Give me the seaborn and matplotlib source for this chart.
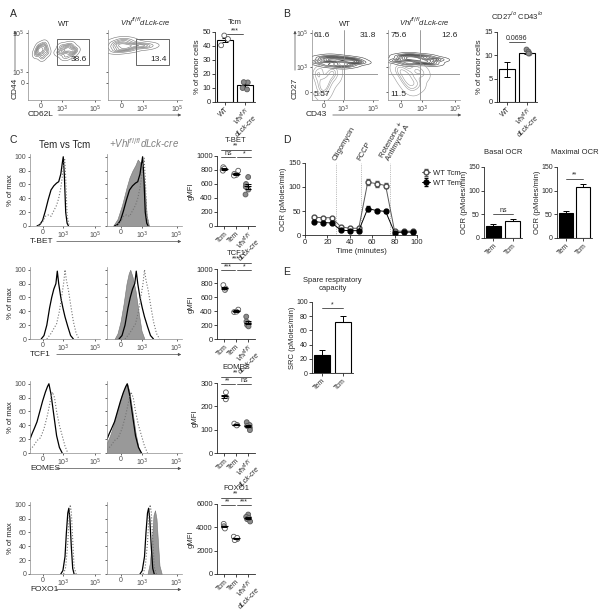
import numpy as np
import pandas as pd
import matplotlib
matplotlib.use("Agg")
import matplotlib.pyplot as plt
import seaborn as sns

W, H = 613, 612
VHL = r"Vhl$^{fl/fl}$dLck-cre"
VHL2 = "Vhl$^{fl/fl}$\ndLck-cre"

# ---------------- data ----------------
# A: CD44 vs CD62L "events" (channel units 0-100), one list per population
a_wt_left_x = [12, 16, 20, 24, 26, 14, 18, 22, 19]
a_wt_left_y = [66, 76, 62, 74, 68, 71, 68, 79, 72]
a_wt_right_x = [44, 48, 52, 56, 60, 64, 50, 58, 54, 62]
a_wt_right_y = [68, 76, 62, 74, 66, 72, 70, 78, 71, 70]
a_ko_x = [6, 10, 14, 18, 22, 26, 30, 36, 42, 48, 54, 12, 20, 28, 16, 24]
a_ko_y = [76, 82, 72, 80, 74, 84, 76, 80, 78, 76, 78, 70, 86, 72, 78, 78]
a_gate = ["38.6", "13.4"]
a_tcm_wt = [47.5, 45.0, 40.5]
a_tcm_ko = [14.0, 14.2, 10.0, 9.0]

# B: CD27 vs CD43
b_wt_band_x = [8, 16, 24, 32, 40, 48, 56, 64, 72, 20, 30, 44, 52, 60, 36]
b_wt_band_y = [54, 60, 50, 58, 52, 60, 50, 58, 54, 56, 62, 48, 56, 54, 56]
b_wt_tail_x = [6, 12, 18, 24, 30, 10, 22, 34, 16]
b_wt_tail_y = [40, 20, 12, 30, 42, 32, 22, 36, 46]
b_ko_band_x = [12, 20, 28, 36, 44, 52, 60, 68, 24, 40, 56, 32]
b_ko_band_y = [56, 62, 52, 60, 54, 62, 52, 58, 58, 58, 56, 64]
b_ko_tail_x = [16, 24, 32, 40, 46, 20, 30, 38, 28]
b_ko_tail_y = [44, 30, 18, 24, 38, 40, 26, 44, 36]
b_quad_wt = ["61.6", "31.8", "5.57"]
b_quad_ko = ["75.6", "12.6", "11.5"]
b_means = [7.0, 10.6]
b_sems = [1.6, 0.3]
b_ko_pts = [11.3, 10.9, 10.5, 10.6]

# C: histograms (x channel units, y % of max)
markers_c = ["T-BET", "TCF1", "EOMES", "FOXO1"]
tbet_tem_x = [10, 14, 18, 22, 26, 30, 34, 38, 41, 44, 46, 47.5, 49, 51, 53, 55]
tbet_tem_y = [0, 2, 8, 22, 38, 52, 58, 62, 64, 75, 90, 100, 75, 20, 4, 0]
tbet_tcm_x = [12, 18, 22, 26, 30, 34, 38, 41, 44, 46, 48, 49.5, 51, 53, 56]
tbet_tcm_y = [0, 6, 14, 16, 14, 22, 30, 40, 55, 70, 88, 98, 70, 15, 0]
tbet_ko_x = [8, 14, 20, 26, 30, 34, 38, 41, 44, 47, 50, 53, 56]
tbet_ko_y = [0, 10, 30, 55, 70, 80, 88, 96, 92, 85, 60, 15, 0]
tcf1_tem_x = [16, 20, 24, 28, 31, 34, 37, 39, 41, 44, 47, 50, 54, 58, 62]
tcf1_tem_y = [0, 5, 20, 45, 60, 72, 80, 98, 80, 60, 45, 32, 18, 5, 0]
tcf1_tcm_x = [24, 30, 34, 38, 42, 45, 48, 50, 52, 55, 58, 62, 66, 70]
tcf1_tcm_y = [0, 8, 15, 22, 40, 60, 80, 100, 85, 70, 50, 25, 8, 0]
tcf1_ko_x = [10, 14, 18, 22, 26, 29, 31, 34, 38, 42, 46, 50]
tcf1_ko_y = [0, 8, 25, 50, 80, 95, 100, 90, 70, 40, 12, 0]
eomes_tem_x = [0, 3, 6, 10, 14, 18, 22, 25, 27, 30, 34, 38, 42, 46]
eomes_tem_y = [20, 28, 35, 45, 60, 75, 88, 96, 100, 85, 55, 25, 8, 0]
eomes_tcm_x = [0, 5, 10, 15, 20, 25, 29, 32, 35, 38, 42, 46, 50, 54]
eomes_tcm_y = [5, 10, 18, 22, 35, 55, 75, 88, 80, 60, 40, 25, 10, 0]
eomes_ko_x = [0, 4, 8, 12, 16, 20, 24, 27, 30, 34, 38, 42, 45]
eomes_ko_y = [15, 25, 38, 55, 70, 85, 95, 100, 88, 60, 30, 8, 0]
foxo1_tem_x = [44, 47, 50, 52, 54, 55.5, 57, 59, 61, 63]
foxo1_tem_y = [0, 5, 25, 60, 88, 95, 80, 40, 8, 0]
foxo1_tcm_x = [48, 51, 54, 56, 57.5, 59, 61, 63, 66]
foxo1_tcm_y = [0, 10, 45, 85, 100, 90, 50, 10, 0]
foxo1_ko_x = [54, 57, 60, 62, 64, 66, 68, 70, 73]
foxo1_ko_y = [0, 15, 50, 85, 92, 80, 45, 12, 0]

# C: gMFI dot plots
groups = ["Tcm", "Tem", "Vhl"]
tbet_vals = [[840, 800, 790, 820], [790, 745, 730, 720], [700, 600, 560, 520, 450]]
tcf1_vals = [[770, 700, 720], [420, 385, 390], [320, 250, 200, 225, 180]]
eomes_vals = [[260, 238, 230], [126, 120, 118], [132, 120, 108, 98, 116]]
foxo1_vals = [[4300, 4100, 4000, 3900], [3200, 3000, 2900, 3100], [5100, 4900, 4700, 4500, 4800]]
ylims_c = [1000, 1000, 300, 6000]
ystep_c = [200, 200, 100, 2000]
sigs_c = [["**", "ns", "*"], ["***", "***", "*"], ["**", "**", "ns"], ["**", "**", "***"]]

# D: OCR time course
time_min = [8, 16, 24, 32, 40, 48, 56, 64, 72, 80, 88, 96]
ocr_tcm = [37, 36, 36, 17, 14, 14, 110, 107, 103, 8, 8, 8]
ocr_tcm_err = [2, 2, 2, 2, 2, 2, 6, 6, 5, 2, 2, 2]
ocr_tem = [28, 26, 25, 10, 9, 9, 55, 51, 49, 5, 6, 6]
ocr_tem_err = [2, 2, 2, 2, 2, 2, 5, 3, 3, 1, 1, 1]
injections = [28, 50, 76]
injection_names = ["Oligomycin", "FCCP", "Rotenone +\nAntimycin A"]
bar_groups = ["Tem", "Tcm"]
basal_ocr = [26, 36]
basal_err = [3, 4]
max_ocr = [52, 108]
max_err = [6, 7]
# E
src_vals = [25, 72]
src_err = [8, 8]

# ---------------- style ----------------
sns.set_style("ticks")
plt.rcParams["font.family"] = ["Liberation Sans", "DejaVu Sans"]
plt.rcParams.update({
    "font.size": 5.5, "axes.linewidth": 0.6, "xtick.major.width": 0.6,
    "ytick.major.width": 0.6, "xtick.major.size": 2, "ytick.major.size": 2,
    "xtick.labelsize": 5.5, "ytick.labelsize": 5.5, "axes.labelsize": 5.5,
    "xtick.major.pad": 1, "ytick.major.pad": 1, "mathtext.default": "it",
})

fig = plt.figure(figsize=(W / 100, H / 100), dpi=100)


def px(x0, y0, x1, y1):
    return fig.add_axes([x0 / W, 1 - y1 / H, (x1 - x0) / W, (y1 - y0) / H])


def ftext(x, y, s, **kw):
    fig.text(x / W, 1 - y / H, s, **kw)


def farrow(x0, y0, x1, y1):
    fig.add_artist(matplotlib.patches.FancyArrowPatch(
        (x0 / W, 1 - y0 / H), (x1 / W, 1 - y1 / H), transform=fig.transFigure,
        arrowstyle="-|>", mutation_scale=4, lw=0.5, color="0.3"))


def flow_axes(ax, yt, ylabels=True):
    ax.set_xlim(0, 100)
    ax.set_ylim(0, 100)
    ax.set_xticks([18, 47, 93], ["0", "10$^3$", "10$^5$"])
    ax.set_yticks(yt, ["0", "10$^3$", "10$^5$"] if ylabels else [])
    for s in ["top", "right"]:
        ax.spines[s].set_visible(False)
    for s in ["left", "bottom"]:
        ax.spines[s].set_color("0.55")
        ax.spines[s].set_linewidth(0.5)
    ax.tick_params(colors="0.3", length=1.5, labelsize=5)
    ax.set_xlabel("")
    ax.set_ylabel("")


def contours(ax, xs, ys, color, levels=8, bw=0.95):
    sns.kdeplot(x=xs, y=ys, ax=ax, levels=levels, bw_adjust=bw, thresh=0.03,
                color=color, linewidths=0.4)


def sig(ax, x1, x2, y, s):
    ax.plot([x1, x2], [y, y], color="0.25", lw=0.6, clip_on=False)
    ax.text((x1 + x2) / 2, y, s, ha="center", va="bottom", fontsize=5)


def small_axes(ax):
    sns.despine(ax=ax)
    ax.set_xlabel("")


def rot_labels(ax, labels, italic_idx=None):
    ax.set_xticks(range(len(labels)), labels, rotation=45, ha="right",
                  rotation_mode="anchor", fontsize=5, linespacing=1.0)
    if italic_idx is not None:
        ax.get_xticklabels()[italic_idx].set_style("italic")


# ---------------- panel letters ----------------
for letter, (x, y) in zip("ABCDE", [(10, 14), (283, 14), (10, 140), (283, 140), (283, 272)]):
    ftext(x, y, letter, fontsize=7.5, va="center")

# ---------------- A ----------------
ax = px(28, 30, 100, 100)
contours(ax, a_wt_left_x, a_wt_left_y, "0.45")
contours(ax, a_wt_right_x, a_wt_right_y, "0.45")
flow_axes(ax, [25, 40, 96])
ax.add_patch(plt.Rectangle((40, 50), 45, 37, fill=False, lw=0.6, ec="0.3"))
ax.text(82, 53, a_gate[0], ha="right", va="bottom", fontsize=6)
ax.set_title("WT", fontsize=5.5, pad=3)

ax = px(108, 30, 182, 100)
contours(ax, a_ko_x, a_ko_y, "0.45")
flow_axes(ax, [25, 40, 96], ylabels=False)
ax.add_patch(plt.Rectangle((38, 50), 45, 37, fill=False, lw=0.6, ec="0.3"))
ax.text(80, 53, a_gate[1], ha="right", va="bottom", fontsize=6)
ax.set_title(VHL, fontsize=5.5, pad=3, style="italic")

farrow(15, 73, 15, 28)
ftext(15, 88, "CD44", rotation=90, ha="center", va="center", fontsize=6)
ftext(28, 115, "CD62L", va="center", fontsize=6)
farrow(56, 115, 184, 115)

ax = px(215, 32, 255, 102)
sns.barplot(x=["WT", "Vhl"], y=[np.mean(a_tcm_wt), np.mean(a_tcm_ko)], ax=ax,
            color="white", edgecolor="black", linewidth=0.8, width=0.8)
ax.errorbar([0, 1], [np.mean(a_tcm_wt), np.mean(a_tcm_ko)],
            yerr=[np.std(a_tcm_wt) / np.sqrt(3), np.std(a_tcm_ko) / 2],
            fmt="none", ecolor="black", elinewidth=0.7, capsize=2, capthick=0.7)
dfa = pd.DataFrame({"g": ["WT"] * 3 + ["Vhl"] * 4, "v": a_tcm_wt + a_tcm_ko})
sns.stripplot(data=dfa, x="g", y="v", hue="g", palette={"WT": "white", "Vhl": "0.55"},
              edgecolor="0.35", linewidth=0.6, size=3.5, jitter=0.2, ax=ax,
              legend=False, zorder=3)
small_axes(ax)
ax.set_ylim(0, 50)
ax.set_yticks(range(0, 51, 10))
ax.set_ylabel("% of donor cells", labelpad=1)
rot_labels(ax, ["WT", VHL2], italic_idx=1)
ax.set_title("Tcm", fontsize=5.5, pad=6)
sig(ax, 0.1, 0.9, 48.5, "***")

# ---------------- B ----------------
for i, (band, tail, quad, title, x0, x1, vx) in enumerate([
        ((b_wt_band_x, b_wt_band_y), (b_wt_tail_x, b_wt_tail_y), b_quad_wt, "WT", 312, 378, 49),
        ((b_ko_band_x, b_ko_band_y), (b_ko_tail_x, b_ko_tail_y), b_quad_ko, VHL, 388, 460, 44)]):
    ax = px(x0, 30, x1, 100)
    contours(ax, band[0], band[1], "0.25", levels=10, bw=0.8)
    contours(ax, tail[0], tail[1], "0.6", levels=5)
    flow_axes(ax, [11, 47, 96], ylabels=(i == 0))
    ax.axvline(vx, color="0.55", lw=0.6)
    ax.axhline(37, color="0.55", lw=0.6)
    ax.text(3, 97, quad[0], va="top", fontsize=6)
    ax.text(97, 97, quad[1], va="top", ha="right", fontsize=6)
    ax.text(3, 3, quad[2], va="bottom", fontsize=6)
    ax.set_title(title, fontsize=5.5, pad=3, style="italic" if i else "normal")
farrow(295, 73, 295, 28)
ftext(295, 88, "CD27", rotation=90, ha="center", va="center", fontsize=6)
ftext(306, 115, "CD43", va="center", fontsize=6)
farrow(330, 115, 464, 115)

ax = px(497, 32, 537, 102)
sns.barplot(x=["WT", "Vhl"], y=b_means, ax=ax, color="white", edgecolor="black",
            linewidth=0.8, width=0.8)
ax.errorbar([0, 1], b_means, yerr=b_sems, fmt="none", ecolor="black",
            elinewidth=0.7, capsize=2, capthick=0.7)
sns.stripplot(x=["Vhl"] * 4, y=b_ko_pts, order=["WT", "Vhl"], color="0.55",
              edgecolor="0.35", linewidth=0.6, size=3.5, jitter=0.2, ax=ax, zorder=3)
small_axes(ax)
ax.set_ylim(0, 15)
ax.set_yticks([0, 5, 10, 15])
ax.set_ylabel("% of donor cells", labelpad=1)
rot_labels(ax, ["WT", VHL2], italic_idx=1)
ax.set_title("CD27$^{lo}$ CD43$^{lo}$", fontsize=5.5, pad=9, style="normal")
sig(ax, 0.1, 0.9, 12.8, "0.0696")

# ---------------- C ----------------
hists = [
    (tbet_tem_x, tbet_tem_y, tbet_tcm_x, tbet_tcm_y, tbet_ko_x, tbet_ko_y),
    (tcf1_tem_x, tcf1_tem_y, tcf1_tcm_x, tcf1_tcm_y, tcf1_ko_x, tcf1_ko_y),
    (eomes_tem_x, eomes_tem_y, eomes_tcm_x, eomes_tcm_y, eomes_ko_x, eomes_ko_y),
    (foxo1_tem_x, foxo1_tem_y, foxo1_tcm_x, foxo1_tcm_y, foxo1_ko_x, foxo1_ko_y),
]
dots = [tbet_vals, tcf1_vals, eomes_vals, foxo1_vals]
row_top = [154, 267, 381, 502]
for r in range(4):
    top = row_top[r]
    bot = top + 72
    tem_x, tem_y, tcm_x, tcm_y, ko_x, ko_y = hists[r]
    for j, (x0, x1) in enumerate([(30, 100), (107, 182)]):
        ax = px(x0, top, x1, bot)
        if j == 1:
            ax.fill_between(ko_x, ko_y, color="0.6", lw=0.4, ec="0.45")
        sns.lineplot(x=tem_x, y=tem_y, ax=ax, color="black", lw=0.9)
        sns.lineplot(x=tcm_x, y=tcm_y, ax=ax, color="0.45", lw=0.8, ls=":")
        flow_axes(ax, [0, 20, 40], ylabels=True)
        ax.set_ylim(0, 104)
        ax.set_yticks(range(0, 101, 20), [str(v) for v in range(0, 101, 20)] if j == 0 else [])
        if j == 0:
            ax.set_ylabel("% of max", labelpad=1)
        if r == 0:
            if j == 0:
                ax.set_title("Tem vs Tcm", fontsize=7, pad=4)
            else:
                ax.set_title("+" + VHL, fontsize=7, pad=4, style="italic", color="0.5")
    ftext(30, bot + 15.5, markers_c[r], va="center", fontsize=6)
    farrow(54, bot + 15.5, 184, bot + 15.5)

    ax = px(217, top + 2, 255, bot)
    vals = dots[r]
    df = pd.DataFrame({"g": sum([[g] * len(v) for g, v in zip(groups, vals)], []),
                       "v": sum(vals, [])})
    sns.stripplot(data=df, x="g", y="v", hue="g", order=groups,
                  palette={"Tcm": "white", "Tem": "white", "Vhl": "0.55"},
                  edgecolor="0.35", linewidth=0.6, size=3.5, jitter=0.2, ax=ax,
                  legend=False, zorder=3)
    means = [np.mean(v) for v in vals]
    sems = [np.std(v) / np.sqrt(len(v)) for v in vals]
    ax.hlines(means, np.arange(3) - 0.3, np.arange(3) + 0.3, color="black", lw=0.8, zorder=4)
    ax.errorbar(range(3), means, yerr=sems, fmt="none", ecolor="black",
                elinewidth=0.7, capsize=2, capthick=0.7, zorder=4)
    small_axes(ax)
    ym = ylims_c[r]
    ax.set_ylim(0, ym)
    ax.set_xlim(-0.6, 2.6)
    ax.set_yticks(range(0, ym + 1, ystep_c[r]))
    ax.set_ylabel("gMFI", labelpad=1)
    rot_labels(ax, ["Tcm", "Tem", VHL2], italic_idx=2)
    ax.set_title(markers_c[r], fontsize=5.5, pad=10)
    s_top, s_a, s_b = sigs_c[r]
    sig(ax, -0.3, 2.3, ym * 1.09, s_top)
    sig(ax, -0.3, 0.95, ym * 0.98, s_a)
    sig(ax, 1.05, 2.3, ym * 0.98, s_b)

# ---------------- D ----------------
ax = px(305, 163, 417, 235)
for v in injections:
    ax.axvline(v, color="0.5", lw=0.5, ls=":")
ax.errorbar(time_min, ocr_tcm, yerr=ocr_tcm_err, fmt="-o", color="0.35", mfc="white",
            mec="0.3", ms=3.5, lw=0.7, elinewidth=0.6, capsize=1.5, label="WT Tcm")
ax.errorbar(time_min, ocr_tem, yerr=ocr_tem_err, fmt="-o", color="black", mfc="black",
            ms=3.5, lw=0.7, elinewidth=0.6, capsize=1.5, label="WT Tem")
for v, name in zip(injections, injection_names):
    ax.text(v + 1, 152, name, rotation=60, ha="left", va="bottom", fontsize=5.5,
            rotation_mode="anchor", linespacing=1.0)
sns.despine(ax=ax)
ax.set_xlim(0, 100)
ax.set_ylim(0, 150)
ax.set_xticks(range(0, 101, 20))
ax.set_yticks([0, 50, 100, 150])
ax.set_xlabel("Time (minutes)", labelpad=1)
ax.set_ylabel("OCR (pMoles/min)", labelpad=1)
ax.legend(loc="upper left", bbox_to_anchor=(1.0, 0.97), frameon=False, fontsize=5.5,
          handlelength=1.1, handletextpad=0.4, borderaxespad=0.2, labelspacing=0.3)


def ocr_bars(ax, vals, errs, ylim, yticks, title, sig_y, sig_s, ylabel):
    sns.barplot(x=bar_groups, y=vals, hue=bar_groups, palette={"Tem": "black", "Tcm": "white"},
                edgecolor="black", linewidth=0.8, width=0.8, ax=ax, legend=False)
    ax.errorbar([0, 1], vals, yerr=[[0, 0], errs], fmt="none", ecolor="black",
                elinewidth=0.7, capsize=2, capthick=0.7)
    small_axes(ax)
    ax.set_ylim(0, ylim)
    ax.set_yticks(yticks)
    ax.tick_params(axis="y", labelsize=5)
    ax.set_ylabel(ylabel, labelpad=0.5)
    rot_labels(ax, bar_groups)
    ax.set_title(title, fontsize=5.5, pad=9)
    sig(ax, 0, 1, sig_y, sig_s)


ax = px(484, 167, 522, 238)
ocr_bars(ax, basal_ocr, basal_err, 150, [0, 50, 100, 150], "Basal OCR", 50, "ns",
         "OCR (pMoles/min)")
ax = px(557, 167, 592, 238)
ocr_bars(ax, max_ocr, max_err, 150, [0, 50, 100, 150], "Maximal OCR", 125, "**",
         "OCR (pMoles/min)")

# ---------------- E ----------------
ax = px(312, 302, 353, 373)
ocr_bars(ax, src_vals, src_err, 100, range(0, 101, 20), "Spare respiratory\ncapacity",
         91, "*", "SRC (pMoles/min)")

fig.savefig("out.png", dpi=100)
